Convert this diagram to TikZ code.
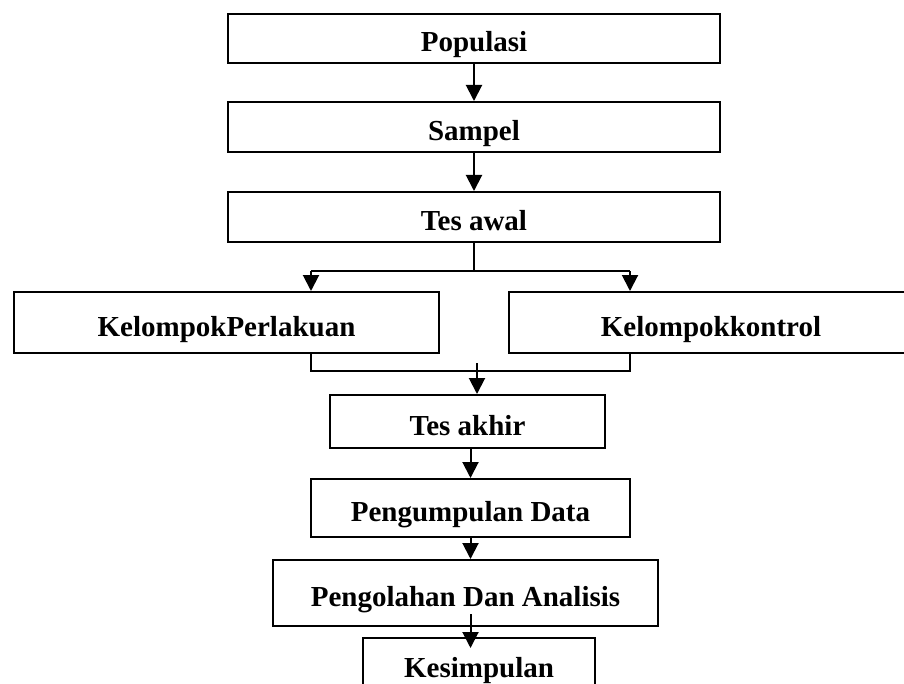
\documentclass[tikz,border=0pt]{standalone}
\usepackage{fontspec}
\setmainfont{Liberation Serif}
\usetikzlibrary{arrows.meta}
\begin{document}
\begin{tikzpicture}[
    x=0.5pt, y=-0.5pt,
    kotak/.style={rectangle, draw=black, line width=1pt, font=\bfseries\fontsize{14.5}{17}\selectfont, text height=13.5pt, text depth=0pt, inner sep=0pt},
    panah/.style={-{Triangle[length=8pt,width=8pt]}, line width=1pt},
    garis/.style={line width=1pt},
]
\useasboundingbox (0,0) rectangle (904,684);
\clip (0,0) rectangle (904,684);

\node (populasi) [kotak, minimum width=246pt, minimum height=24.5pt] at (474,38.5) {Populasi};

\node (sampel) [kotak, minimum width=246pt, minimum height=25pt] at (474,127) {Sampel};

\node (awal) [kotak, minimum width=246pt, minimum height=25pt] at (474,217) {Tes awal};

\node (perlakuan) [kotak, minimum width=212.5pt, minimum height=30.5pt] at (226.5,322.5) {KelompokPerlakuan};

\node (kontrol) [kotak, minimum width=202pt, minimum height=30.5pt] at (711,322.5) {Kelompokkontrol};

\node (akhir) [kotak, minimum width=137.5pt, minimum height=26.5pt] at (467.5,421.5) {Tes akhir};

\node (kumpul) [kotak, minimum width=159.5pt, minimum height=29pt] at (470.5,508) {Pengumpulan Data};

\node (olah) [kotak, minimum width=192.5pt, minimum height=33pt] at (465.5,593) {Pengolahan Dan Analisis};

\node (simpulan) [kotak, minimum width=116pt, minimum height=25.5pt] at (479,663.5) {Kesimpulan};

\coordinate (kiri) at (311,271);
\coordinate (kanan) at (630,271);
\coordinate (bawahkiri) at (311,371);
\coordinate (bawahkanan) at (630,371);
\coordinate (gabung) at (477,363);

\draw [panah] (populasi.south) -- (sampel.north);
\draw [panah] (sampel.south) -- (awal.north);
\draw [garis] (awal.south) -- (awal.south |- kiri);
\draw [garis] (kiri) -- (kanan);
\draw [panah] (kiri) -- (kiri |- perlakuan.north);
\draw [panah] (kanan) -- (kanan |- kontrol.north);
\draw [garis] (bawahkiri |- perlakuan.south) -- (bawahkiri) -- (bawahkanan) -- (bawahkanan |- kontrol.south);
\draw [panah] (gabung) -- (gabung |- akhir.north);
\draw [panah] (akhir.south -| kumpul.north) -- (kumpul.north);
\draw [panah] (kumpul.south) -- (kumpul.south |- olah.north);
\draw [panah] ([yshift=6.5pt]olah.south -| kumpul.south) -- ([yshift=-5.5pt]kumpul.south |- simpulan.north);

\end{tikzpicture}
\end{document}
